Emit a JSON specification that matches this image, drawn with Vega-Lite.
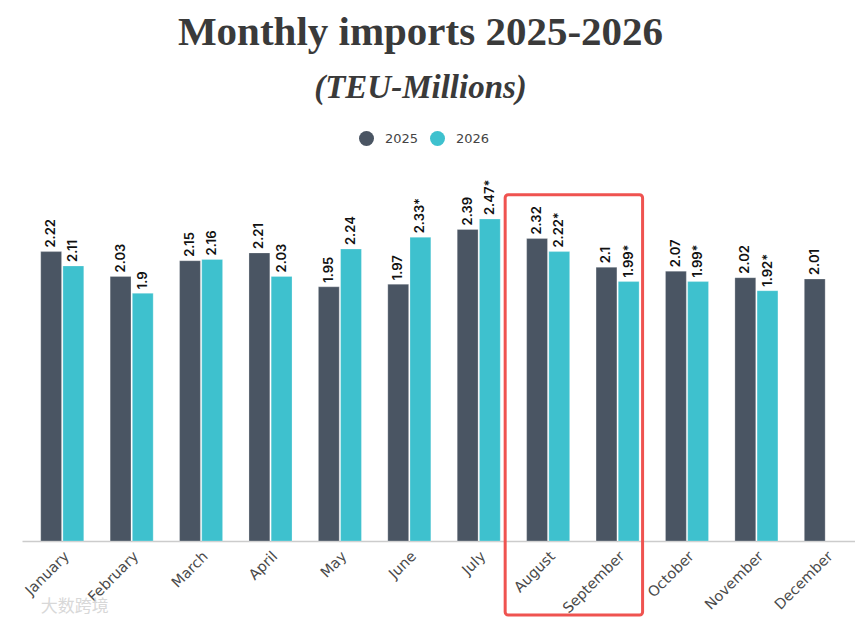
{
  "$schema": "https://vega.github.io/schema/vega-lite/v6.json",
  "width": 833,
  "height": 365,
  "autosize": {"type": "none"},
  "padding": {"left": 22, "top": 176, "right": 0, "bottom": 83},
  "background": "white",
  "title": {
    "text": "Monthly imports 2025-2026",
    "subtitle": "(TEU-Millions)",
    "anchor": "middle",
    "frame": "group",
    "font": "Liberation Serif",
    "fontSize": 41,
    "fontWeight": "bold",
    "color": "#3a3a3a",
    "subtitleFont": "Liberation Serif",
    "subtitleFontSize": 33,
    "subtitleFontWeight": "bold",
    "subtitleFontStyle": "italic",
    "subtitleColor": "#3a3a3a",
    "subtitlePadding": 18,
    "offset": 25,
    "dx": -18
  },
  "config": {"view": {"stroke": null}, "font": "Lato"},
  "datasets": {
    "imports": [
      {"month": "January", "year": "2025", "value": 2.22, "label": "2.22"},
      {"month": "January", "year": "2026", "value": 2.11, "label": "2.11"},
      {"month": "February", "year": "2025", "value": 2.03, "label": "2.03"},
      {"month": "February", "year": "2026", "value": 1.9, "label": "1.9"},
      {"month": "March", "year": "2025", "value": 2.15, "label": "2.15"},
      {"month": "March", "year": "2026", "value": 2.16, "label": "2.16"},
      {"month": "April", "year": "2025", "value": 2.21, "label": "2.21"},
      {"month": "April", "year": "2026", "value": 2.03, "label": "2.03"},
      {"month": "May", "year": "2025", "value": 1.95, "label": "1.95"},
      {"month": "May", "year": "2026", "value": 2.24, "label": "2.24"},
      {"month": "June", "year": "2025", "value": 1.97, "label": "1.97"},
      {"month": "June", "year": "2026", "value": 2.33, "label": "2.33*"},
      {"month": "July", "year": "2025", "value": 2.39, "label": "2.39"},
      {"month": "July", "year": "2026", "value": 2.47, "label": "2.47*"},
      {"month": "August", "year": "2025", "value": 2.32, "label": "2.32"},
      {"month": "August", "year": "2026", "value": 2.22, "label": "2.22*"},
      {"month": "September", "year": "2025", "value": 2.1, "label": "2.1"},
      {"month": "September", "year": "2026", "value": 1.99, "label": "1.99*"},
      {"month": "October", "year": "2025", "value": 2.07, "label": "2.07"},
      {"month": "October", "year": "2026", "value": 1.99, "label": "1.99*"},
      {"month": "November", "year": "2025", "value": 2.02, "label": "2.02"},
      {"month": "November", "year": "2026", "value": 1.92, "label": "1.92*"},
      {"month": "December", "year": "2025", "value": 2.01, "label": "2.01"}
    ],
    "box": [{"from": "August", "to": "September", "top": 2.656, "bottom": -0.568}],
    "mark": [{"month": "January", "text": "大数跨境", "level": -0.506}]
  },
  "layer": [
    {
      "data": {"name": "imports"},
      "mark": {"type": "bar", "stroke": "#ffffff", "strokeWidth": 0.5, "strokeOpacity": 0.5},
      "encoding": {
        "x": {
          "field": "month",
          "type": "nominal",
          "sort": null,
          "scale": {
            "domain": ["January", "February", "March", "April", "May", "June", "July", "August", "September", "October", "November", "December"],
            "paddingInner": 0.38,
            "paddingOuter": 0.19,
            "align": 0.71
          },
          "axis": {
            "title": null,
            "labelAngle": -45,
            "labelFontSize": 14.5,
            "labelColor": "#4a4a4a",
            "labelFont": "DejaVu Sans",
            "labelPadding": 8,
            "ticks": false,
            "domainColor": "#cccccc",
            "domainWidth": 1.5
          }
        },
        "xOffset": {
          "field": "year",
          "type": "nominal",
          "scale": {"domain": ["2025", "2026"], "paddingInner": 0.06}
        },
        "y": {
          "field": "value",
          "type": "quantitative",
          "scale": {"domain": [0, 2.8], "nice": false, "zero": true},
          "axis": null
        },
        "color": {
          "field": "year",
          "type": "nominal",
          "scale": {"domain": ["2025", "2026"], "range": ["#4a5563", "#3ec1ce"]},
          "legend": {
            "title": null,
            "orient": "none",
            "direction": "horizontal",
            "legendX": 337,
            "legendY": -45,
            "symbolType": "circle",
            "symbolSize": 225,
            "symbolStrokeWidth": 0,
            "labelFontSize": 13,
            "labelColor": "#444444",
            "labelFont": "DejaVu Sans",
            "labelOffset": 11,
            "columnPadding": 11,
            "padding": 0
          }
        }
      }
    },
    {
      "data": {"name": "imports"},
      "mark": {
        "type": "text",
        "angle": -90,
        "align": "left",
        "baseline": "middle",
        "dx": 4,
        "font": "Inter",
        "fontWeight": 600,
        "fontSize": 13,
        "color": "#111111"
      },
      "encoding": {
        "x": {"field": "month", "type": "nominal", "sort": null},
        "xOffset": {"field": "year", "type": "nominal"},
        "y": {"field": "value", "type": "quantitative"},
        "text": {"field": "label", "type": "nominal"}
      }
    },
    {
      "data": {"name": "box"},
      "mark": {
        "type": "rect",
        "fill": null,
        "fillOpacity": 0,
        "stroke": "#ef5350",
        "strokeWidth": 3,
        "cornerRadius": 3,
        "xOffset": -43,
        "x2Offset": 25,
        "clip": false
      },
      "encoding": {
        "x": {"field": "from", "type": "nominal", "sort": null},
        "x2": {"field": "to"},
        "y": {"field": "top", "type": "quantitative"},
        "y2": {"field": "bottom"}
      }
    },
    {
      "data": {"name": "mark"},
      "mark": {
        "type": "text",
        "align": "left",
        "baseline": "middle",
        "font": "Noto Sans CJK SC",
        "fontSize": 17,
        "color": "#d8d8d8"
      },
      "encoding": {
        "x": {"field": "month", "type": "nominal", "sort": null, "bandPosition": 0},
        "y": {"field": "level", "type": "quantitative"},
        "text": {"field": "text", "type": "nominal"}
      }
    }
  ]
}
